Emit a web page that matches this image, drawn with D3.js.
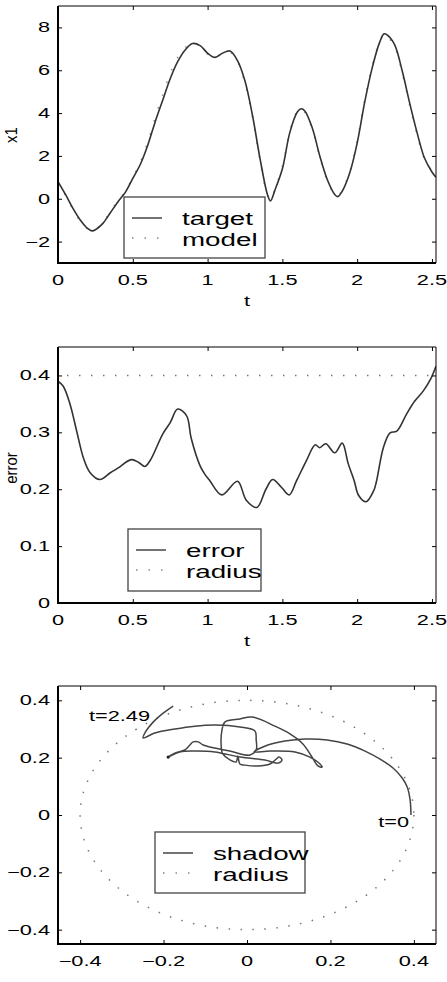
<!DOCTYPE html>
<html><head><meta charset="utf-8">
<script src="https://cdn.jsdelivr.net/npm/d3@7"></script>
<style>
html,body{margin:0;padding:0;background:#fff;}
svg{display:block;}
text{font-family:"Liberation Sans",Arial,Helvetica,sans-serif;fill:#000;}
</style></head><body>
<svg id="chart" width="447" height="982"></svg>
<script>
// ---------------- DATA ----------------
// Panel 1: x1 vs t
const tX1 = [0,0.05,0.10,0.15,0.20,0.227,0.25,0.30,0.35,0.40,0.45,0.50,0.55,0.60,0.65,0.70,0.75,0.80,0.85,0.90,0.95,1.00,1.05,1.10,1.15,1.20,1.25,1.30,1.35,1.40,1.42,1.45,1.50,1.55,1.60,1.625,1.65,1.70,1.75,1.80,1.85,1.87,1.90,1.95,2.00,2.05,2.10,2.15,2.18,2.20,2.25,2.30,2.35,2.40,2.45,2.50,2.527];
const x1Target = [0.8,0.2,-0.45,-1.0,-1.4,-1.5,-1.45,-1.15,-0.65,-0.15,0.3,0.95,1.6,2.5,3.6,4.6,5.6,6.4,6.95,7.25,7.15,6.8,6.6,6.8,6.9,6.45,5.5,3.9,1.9,0.2,-0.1,0.4,1.4,3.1,4.05,4.2,4.1,3.3,2.0,0.9,0.2,0.1,0.35,1.2,2.6,4.5,6.1,7.3,7.7,7.65,7.2,6.0,4.5,3.1,1.9,1.25,1.0];
const x1Model = [0.8,0.15,-0.5,-1.05,-1.42,-1.5,-1.43,-1.1,-0.6,-0.1,0.35,1.0,1.7,2.65,3.8,4.85,5.85,6.6,7.05,7.3,7.1,6.75,6.6,6.8,6.85,6.4,5.4,3.8,1.8,0.15,-0.05,0.45,1.5,3.15,4.1,4.2,4.05,3.25,1.95,0.85,0.2,0.15,0.4,1.25,2.7,4.6,6.2,7.35,7.7,7.6,7.1,5.9,4.4,3.0,1.85,1.3,1.0];
const tTicks = [0,0.5,1,1.5,2,2.5];
const tTickLabels = ["0","0.5","1","1.5","2","2.5"];
const x1Ticks = [-2,0,2,4,6,8];
const x1TickLabels = ["\u22122","0","2","4","6","8"];

// Panel 2: error vs t
const tErr = [0,0.035,0.08,0.125,0.17,0.215,0.28,0.35,0.40,0.49,0.54,0.58,0.615,0.70,0.75,0.80,0.86,0.89,0.95,0.98,1.015,1.095,1.2,1.26,1.33,1.39,1.435,1.495,1.545,1.595,1.66,1.72,1.75,1.79,1.85,1.90,1.94,1.98,2.01,2.06,2.11,2.13,2.175,2.22,2.265,2.33,2.385,2.44,2.49,2.527];
const errVal = [0.39,0.381,0.35,0.302,0.255,0.229,0.217,0.229,0.237,0.252,0.247,0.24,0.25,0.297,0.317,0.341,0.329,0.29,0.241,0.227,0.215,0.19,0.214,0.18,0.168,0.2,0.217,0.203,0.19,0.215,0.25,0.278,0.273,0.28,0.264,0.281,0.245,0.215,0.189,0.178,0.197,0.215,0.273,0.299,0.302,0.332,0.355,0.372,0.393,0.416];
const radiusValue = 0.4;
const errTicks = [0,0.1,0.2,0.3,0.4];
const errTickLabels = ["0","0.1","0.2","0.3","0.4"];

// Panel 3: shadow trajectory
const shadowX = [0.393,0.391,0.384,0.372,0.350,0.319,0.283,0.240,0.192,0.139,0.091,0.050,0.017,0.055,0.115,0.151,0.175,0.180,0.170,0.156,0.134,0.103,0.067,0.012,-0.017,-0.053,-0.060,-0.062,-0.058,-0.041,-0.026,-0.022,-0.017,-0.005,0.026,0.055,0.070,0.077,0.084,0.074,0.043,-0.017,-0.077,-0.125,-0.161,-0.189,-0.173,-0.149,-0.137,-0.129,-0.117,-0.105,-0.089,-0.041,0.007,0.022,0.022,0.019,-0.017,-0.077,-0.125,-0.173,-0.221,-0.249,-0.242,-0.225,-0.204,-0.177];
const shadowY = [0.000,0.052,0.098,0.129,0.164,0.195,0.223,0.248,0.262,0.265,0.258,0.244,0.220,0.223,0.220,0.202,0.178,0.167,0.171,0.202,0.248,0.283,0.310,0.342,0.335,0.324,0.296,0.244,0.213,0.192,0.185,0.206,0.178,0.174,0.171,0.178,0.195,0.202,0.192,0.181,0.192,0.202,0.220,0.223,0.220,0.202,0.216,0.227,0.244,0.255,0.255,0.244,0.237,0.223,0.209,0.227,0.262,0.293,0.307,0.314,0.310,0.300,0.286,0.269,0.293,0.324,0.352,0.380];
const posTicks = [-0.4,-0.2,0,0.2,0.4];
const posTickLabels = ["\u22120.4","\u22120.2","0","0.2","0.4"];

// ---------------- DRAWING ----------------
const svg = d3.select("#chart");
const SX = 1.5;            // horizontal glyph stretch seen in the reference
const TICK_FS = 14.5, LEG_FS = 18.5;
const L = 58, R = 436;

function htext(parent, x, y, s, fs, anchor) {
  return parent.append("text")
    .attr("transform", `translate(${x},${y}) scale(${SX},1)`)
    .attr("text-anchor", anchor || "start")
    .attr("font-size", fs)
    .text(s);
}
function vtext(parent, x, y, s, fs) {
  return parent.append("text")
    .attr("transform", `translate(${x},${y}) rotate(-90) scale(1,1.15)`)
    .attr("text-anchor", "middle")
    .attr("font-size", fs)
    .text(s);
}

function panel(top, bottom, xDom, yDom, xT, xTL, yT, yTL, id) {
  const x = d3.scaleLinear().domain(xDom).range([L, R]);
  const y = d3.scaleLinear().domain(yDom).range([bottom, top]);
  const g = svg.append("g");
  svg.append("clipPath").attr("id", id).append("rect")
    .attr("x", L).attr("y", top).attr("width", R - L).attr("height", bottom - top);
  const plot = g.append("g").attr("clip-path", `url(#${id})`);
  const mk = (ax, tr) => {
    const a = g.append("g").attr("transform", tr).call(ax);
    a.select(".domain").remove();
    a.selectAll("text").remove();
    a.selectAll("line").attr("stroke", "#000").attr("stroke-width", 1);
  };
  mk(d3.axisBottom(x).tickValues(xT).tickSizeInner(-4).tickSizeOuter(0), `translate(0,${bottom})`);
  mk(d3.axisTop(x).tickValues(xT).tickSizeInner(-4).tickSizeOuter(0), `translate(0,${top})`);
  mk(d3.axisLeft(y).tickValues(yT).tickSizeInner(-4).tickSizeOuter(0), `translate(${L},0)`);
  mk(d3.axisRight(y).tickValues(yT).tickSizeInner(-4).tickSizeOuter(0), `translate(${R},0)`);
  g.append("line").attr("x1", L).attr("x2", R).attr("y1", top).attr("y2", top).attr("stroke", "#000").attr("stroke-width", 1);
  g.append("line").attr("x1", R).attr("x2", R).attr("y1", top).attr("y2", bottom).attr("stroke", "#000").attr("stroke-width", 1);
  g.append("line").attr("x1", L).attr("x2", L).attr("y1", top).attr("y2", bottom + 1).attr("stroke", "#000").attr("stroke-width", 2);
  g.append("line").attr("x1", L - 1).attr("x2", R).attr("y1", bottom).attr("y2", bottom).attr("stroke", "#000").attr("stroke-width", 2);
  xT.forEach((v, i) => htext(g, x(v), bottom + 22, xTL[i], TICK_FS, "middle"));
  yT.forEach((v, i) => htext(g, 50, y(v) + 5, yTL[i], TICK_FS, "end"));
  return {x, y, g, plot};
}

function legend(x0, y0, w, h, labels) {
  const g = svg.append("g");
  g.append("rect").attr("x", x0).attr("y", y0).attr("width", w).attr("height", h)
    .attr("fill", "#fff").attr("stroke", "#444").attr("stroke-width", 1.3);
  g.append("line").attr("x1", x0 + 8).attr("x2", x0 + 38).attr("y1", y0 + 21).attr("y2", y0 + 21)
    .attr("stroke", "#444").attr("stroke-width", 1.5);
  g.append("line").attr("x1", x0 + 8).attr("x2", x0 + 40).attr("y1", y0 + 41).attr("y2", y0 + 41)
    .attr("stroke", "#888").attr("stroke-width", 1.5).attr("stroke-dasharray", "1.5,11");
  htext(g, x0 + 58, y0 + 28, labels[0], LEG_FS, "start");
  htext(g, x0 + 58, y0 + 49, labels[1], LEG_FS, "start");
}

const DOT = "1.5,10.5";
const line1 = d3.line().curve(d3.curveCatmullRom.alpha(0.5));

// ----- Panel 1 -----
const p1 = panel(6, 263, [0, 2.527], [-3, 9], tTicks, tTickLabels, x1Ticks, x1TickLabels, "c1");
p1.plot.append("path").attr("d", line1(tX1.map((t, i) => [p1.x(t), p1.y(x1Model[i])])))
  .attr("fill", "none").attr("stroke", "#888").attr("stroke-width", 1.5).attr("stroke-dasharray", "1.5,12");
p1.plot.append("path").attr("d", line1(tX1.map((t, i) => [p1.x(t), p1.y(x1Target[i])])))
  .attr("fill", "none").attr("stroke", "#333").attr("stroke-width", 1.6);
htext(svg, 247, 306, "t", TICK_FS, "middle");
vtext(svg, 17, 135, "x1", 15);
legend(124, 197, 141, 61, ["target", "model"]);

// ----- Panel 2 -----
const p2 = panel(347, 603, [0, 2.527], [0, 0.45], tTicks, tTickLabels, errTicks, errTickLabels, "c2");
p2.plot.append("line").attr("x1", p2.x(0) + 9).attr("x2", p2.x(2.527)).attr("y1", p2.y(radiusValue)).attr("y2", p2.y(radiusValue))
  .attr("stroke", "#777").attr("stroke-width", 1.5).attr("stroke-dasharray", DOT);
p2.plot.append("path").attr("d", line1(tErr.map((t, i) => [p2.x(t), p2.y(errVal[i])])))
  .attr("fill", "none").attr("stroke", "#333").attr("stroke-width", 1.6);
htext(svg, 247, 646, "t", TICK_FS, "middle");
vtext(svg, 17, 468, "error", 15);
legend(128, 529, 133, 62, ["error", "radius"]);

// ----- Panel 3 -----
const p3 = panel(686, 944, [-0.453, 0.453], [-0.45, 0.45], posTicks, posTickLabels, posTicks, posTickLabels, "c3");
p3.plot.append("ellipse").attr("cx", p3.x(0)).attr("cy", p3.y(0))
  .attr("rx", p3.x(radiusValue) - p3.x(0)).attr("ry", p3.y(0) - p3.y(radiusValue))
  .attr("fill", "none").attr("stroke", "#777").attr("stroke-width", 1.5).attr("stroke-dasharray", DOT);
p3.plot.append("path").attr("d", line1(shadowX.map((v, i) => [p3.x(v), p3.y(shadowY[i])])))
  .attr("fill", "none").attr("stroke", "#444").attr("stroke-width", 1.5);
p3.plot.append("circle").attr("cx", p3.x(shadowX[45])).attr("cy", p3.y(shadowY[45])).attr("r", 1.6).attr("fill", "#222");
htext(svg, 150, 721, "t=2.49", TICK_FS, "end");
htext(svg, 409, 827, "t=0", TICK_FS, "end");
legend(155, 832, 150, 61, ["shadow", "radius"]);
</script>
</body></html>
